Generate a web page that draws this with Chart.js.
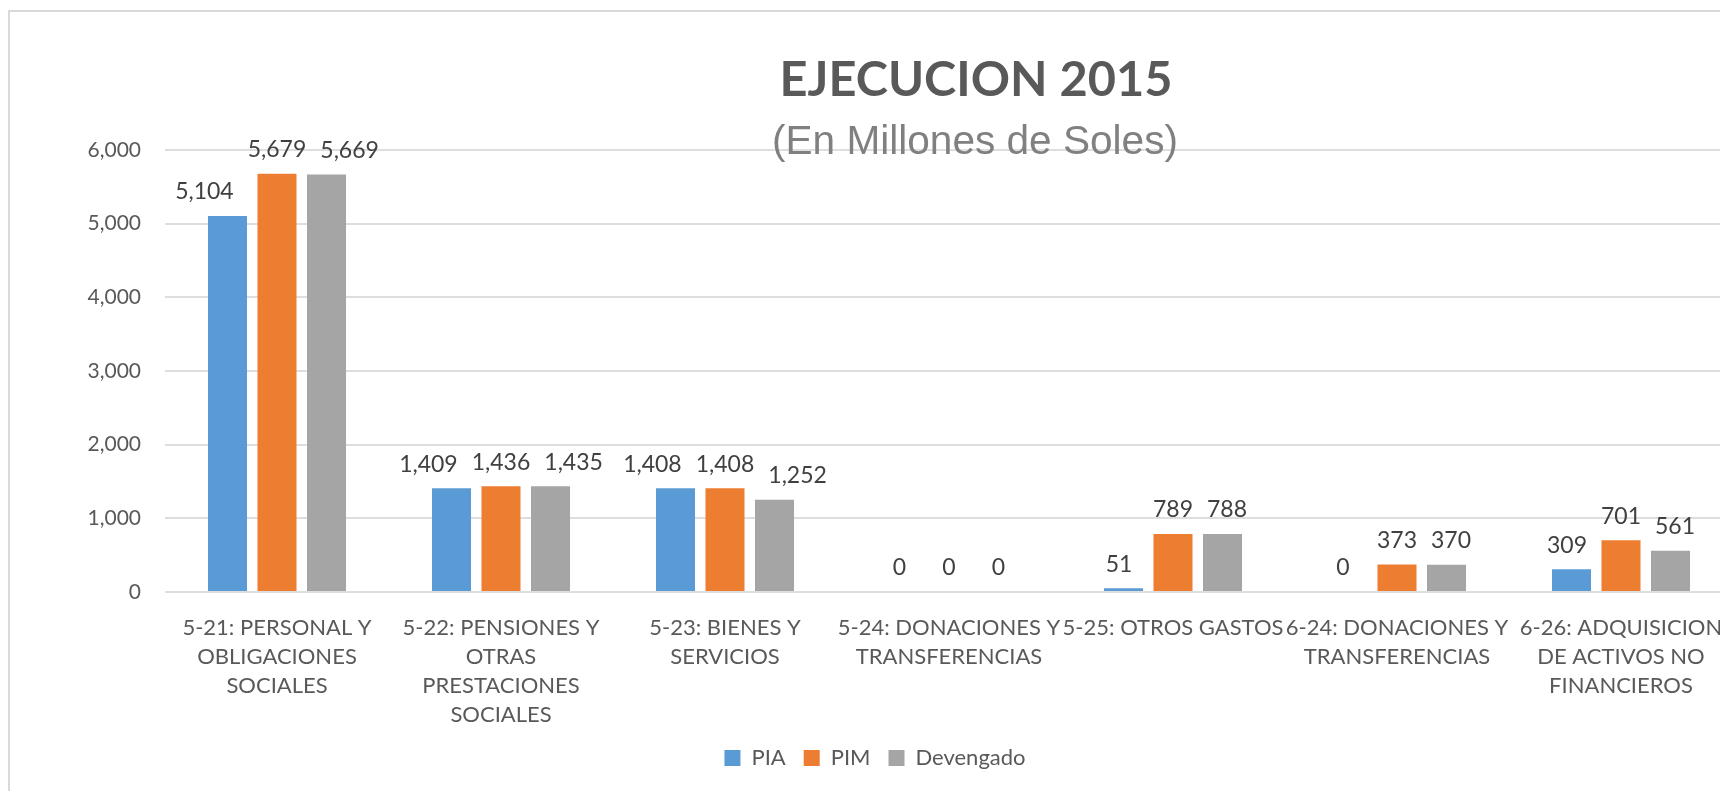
<!DOCTYPE html>
<html>
<head>
<meta charset="utf-8">
<title>Ejecucion 2015</title>
<script src="https://cdn.jsdelivr.net/npm/chart.js@4.4.0/dist/chart.umd.min.js"></script>
<style>
  html, body { margin: 0; padding: 0; background: #fff; overflow: hidden; width: 1720px; height: 791px; }
  #frame { position: absolute; left: 8px; top: 10px; width: 1800px; height: 900px; border: 2px solid #d9d9d9; }
  #myChart { position: absolute; left: 0; top: 0; }
</style>
</head>
<body>
<div id="frame"></div>
<canvas id="myChart" width="1743" height="791"></canvas>
<script>
const chartTitle = 'EJECUCION 2015';
const chartSubtitle = '(En Millones de Soles)';

const categories = [
  ['5-21: PERSONAL Y', 'OBLIGACIONES', 'SOCIALES'],
  ['5-22: PENSIONES Y', 'OTRAS', 'PRESTACIONES', 'SOCIALES'],
  ['5-23: BIENES Y', 'SERVICIOS'],
  ['5-24: DONACIONES Y', 'TRANSFERENCIAS'],
  ['5-25: OTROS GASTOS'],
  ['6-24: DONACIONES Y', 'TRANSFERENCIAS'],
  ['6-26: ADQUISICION', 'DE ACTIVOS NO', 'FINANCIEROS']
];
const pia = [5104, 1409, 1408, 0, 51, 0, 309];
const pim = [5679, 1436, 1408, 0, 789, 373, 701];
const devengado = [5669, 1435, 1252, 0, 788, 370, 561];
const yMin = 0, yMax = 6000, yStep = 1000;

const textColor = '#595959';
const fontName = 'Lato';

// numbers on top of the bars, side labels pushed out when they'd touch
const valueLabels = {
  id: 'valueLabels',
  afterDatasetsDraw(chart) {
    const ctx = chart.ctx;
    const sets = chart.data.datasets;
    ctx.save();
    ctx.font = '23px ' + fontName;
    ctx.fillStyle = '#404040';
    ctx.textAlign = 'center';
    ctx.textBaseline = 'middle';
    chart.data.labels.forEach((_, j) => {
      const bars = sets.map((ds, i) => chart.getDatasetMeta(i).data[j]);
      const texts = sets.map(ds => ds.data[j].toLocaleString('en-US'));
      const w = texts.map(t => ctx.measureText(t).width);
      const pitch = bars[1].x - bars[0].x;
      const push = Math.max(0, (w[0] + w[1]) / 2 + 14 - pitch, (w[1] + w[2]) / 2 + 14 - pitch);
      texts.forEach((t, i) => {
        ctx.fillText(t, bars[i].x + (i - 1) * push, bars[i].y - 24);
      });
    });
    ctx.restore();
  }
};

// title + subtitle, squeezed to the widths of the original
function fitFont(ctx, text, style, family, width) {
  ctx.font = style + ' 40px ' + family;
  const size = 40 * width / ctx.measureText(text).width;
  return style + ' ' + size.toFixed(1) + 'px ' + family;
}
const titleBlock = {
  id: 'titleBlock',
  afterDraw(chart) {
    const ctx = chart.ctx;
    ctx.save();
    ctx.textAlign = 'center';
    ctx.textBaseline = 'alphabetic';
    ctx.fillStyle = textColor;
    ctx.font = fitFont(ctx, chartTitle, 'bold', fontName, 393);
    ctx.fillText(chartTitle, 976, 96);
    ctx.fillStyle = '#808080';
    ctx.font = fitFont(ctx, chartSubtitle, 'normal', '"Liberation Sans"', 406);
    ctx.fillText(chartSubtitle, 975, 154);
    ctx.restore();
  }
};

function draw() {
  const ctx = document.getElementById('myChart').getContext('2d');
  new Chart(ctx, {
    type: 'bar',
    data: {
      labels: categories,
      datasets: [
        { label: 'PIA', data: pia, backgroundColor: '#5b9bd5' },
        { label: 'PIM', data: pim, backgroundColor: '#ed7d31' },
        { label: 'Devengado', data: devengado, backgroundColor: '#a5a5a5' }
      ]
    },
    options: {
      responsive: false,
      animation: false,
      categoryPercentage: 0.663,
      barPercentage: 0.788,
      layout: { padding: { left: 17, right: 10, top: 150, bottom: 12 } },
      plugins: {
        legend: {
          position: 'bottom',
          labels: {
            boxWidth: 16, boxHeight: 16, padding: 18,
            color: textColor,
            font: { family: fontName, size: 22 }
          }
        },
        tooltip: { enabled: false }
      },
      scales: {
        x: {
          grid: { display: false },
          border: { display: false },
          ticks: {
            color: textColor,
            font: { family: fontName, size: 22, lineHeight: 1.32 },
            padding: 13,
            autoSkip: false, maxRotation: 0, minRotation: 0
          },
          afterFit(scale) { scale.height = 137; }
        },
        y: {
          min: yMin, max: yMax,
          grid: { color: '#dedede', lineWidth: 2, drawTicks: false },
          border: { display: false },
          ticks: {
            stepSize: yStep,
            padding: 24,
            color: textColor,
            font: { family: fontName, size: 21 },
            callback: v => v.toLocaleString('en-US')
          },
          afterFit(scale) { scale.width = 148; }
        }
      }
    },
    plugins: [valueLabels, titleBlock]
  });
}

document.fonts.load('21px Lato').then(() => document.fonts.load('bold 40px Lato')).then(draw, draw);
</script>
</body>
</html>
